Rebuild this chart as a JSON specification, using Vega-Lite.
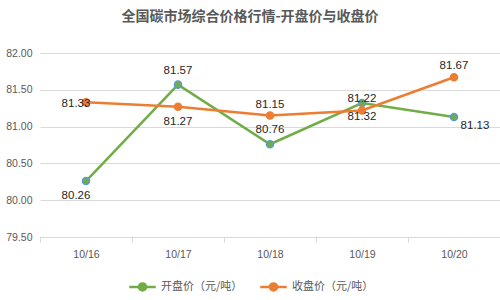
{
  "$schema": "https://vega.github.io/schema/vega-lite/v6.json",
  "width": 460,
  "height": 184,
  "autosize": "none",
  "padding": {"left": 40, "top": 53, "right": 0, "bottom": 63},
  "background": "white",
  "title": {"text": "全国碳市场综合价格行情-开盘价与收盘价", "font": "Noto Sans CJK SC", "fontSize": 14, "fontWeight": "bold", "color": "#595959", "offset": 24, "dx": -20},
  "config": {"view": {"stroke": null}, "font": "Liberation Sans"},
  "data": {"values": [
    {"date": "10/16", "series": "开盘价（元/吨）", "price": 80.26},
    {"date": "10/17", "series": "开盘价（元/吨）", "price": 81.57},
    {"date": "10/18", "series": "开盘价（元/吨）", "price": 80.76},
    {"date": "10/19", "series": "开盘价（元/吨）", "price": 81.32},
    {"date": "10/20", "series": "开盘价（元/吨）", "price": 81.13},
    {"date": "10/16", "series": "收盘价（元/吨）", "price": 81.33},
    {"date": "10/17", "series": "收盘价（元/吨）", "price": 81.27},
    {"date": "10/18", "series": "收盘价（元/吨）", "price": 81.15},
    {"date": "10/19", "series": "收盘价（元/吨）", "price": 81.22},
    {"date": "10/20", "series": "收盘价（元/吨）", "price": 81.67}
  ]},
  "encoding": {
    "x": {"field": "date", "type": "ordinal", "title": null,
      "scale": {"type": "band", "paddingInner": 0, "paddingOuter": 0},
      "axis": {"labelAngle": 0, "labelFontSize": 10.5, "labelColor": "#595959", "labelPadding": 7, "domainColor": "#d9d9d9", "tickColor": "#d9d9d9", "tickSize": 5, "tickBand": "extent", "grid": false}},
    "y": {"field": "price", "type": "quantitative", "title": null,
      "scale": {"domain": [79.5, 82], "zero": false, "nice": false},
      "axis": {"values": [79.5, 80, 80.5, 81, 81.5, 82], "format": ".2f", "labelFontSize": 10.5, "labelColor": "#595959", "labelPadding": 8, "domain": false, "ticks": false, "gridColor": "#d9d9d9"}}
  },
  "layer": [
    {"mark": {"type": "line", "strokeWidth": 2.5},
     "encoding": {"color": {"field": "series", "type": "nominal", "title": null,
       "scale": {"domain": ["开盘价（元/吨）", "收盘价（元/吨）"], "range": ["#70AD47", "#ED7D31"]},
       "legend": {"orient": "none", "legendX": 88, "legendY": 219, "direction": "horizontal", "labelFont": "Noto Sans CJK SC", "labelFontSize": 11, "labelColor": "#595959", "columnPadding": 12, "symbolType": "M-1,0L1,0M-0.27,0A0.27,0.27 0 1,1 0.27,0A0.27,0.27 0 1,1 -0.27,0", "symbolSize": 700, "symbolStrokeWidth": 2.5,
         "encode": {"symbols": {"update": {"fill": {"scale": "color", "field": "value"}}}}}}}},
    {"mark": {"type": "point", "filled": true, "size": 50, "strokeWidth": 1.5, "opacity": 1},
     "encoding": {
       "fill": {"field": "series", "type": "nominal", "scale": {"domain": ["开盘价（元/吨）", "收盘价（元/吨）"], "range": ["#70AD47", "#ED7D31"]}, "legend": null},
       "stroke": {"field": "series", "type": "nominal", "scale": {"domain": ["开盘价（元/吨）", "收盘价（元/吨）"], "range": ["#5B9BD5", "#ED7D31"]}, "legend": null}}},
    {"transform": [{"filter": "datum.series == '开盘价（元/吨）' && (datum.date == '10/17' || datum.date == '10/18')"}],
     "mark": {"type": "text", "fontSize": 11.5, "color": "#262626", "baseline": "middle", "dy": -14},
     "encoding": {"text": {"field": "price", "format": ".2f"}}},
    {"transform": [{"filter": "datum.series == '开盘价（元/吨）' && datum.date == '10/19'"}],
     "mark": {"type": "text", "fontSize": 11.5, "color": "#262626", "baseline": "middle", "dy": 14},
     "encoding": {"text": {"field": "price", "format": ".2f"}}},
    {"transform": [{"filter": "datum.series == '开盘价（元/吨）' && datum.date == '10/16'"}],
     "mark": {"type": "text", "fontSize": 11.5, "color": "#262626", "baseline": "middle", "dx": -10, "dy": 15},
     "encoding": {"text": {"field": "price", "format": ".2f"}}},
    {"transform": [{"filter": "datum.series == '开盘价（元/吨）' && datum.date == '10/20'"}],
     "mark": {"type": "text", "fontSize": 11.5, "color": "#262626", "baseline": "middle", "dx": 21, "dy": 9},
     "encoding": {"text": {"field": "price", "format": ".2f"}}},
    {"transform": [{"filter": "datum.series == '收盘价（元/吨）' && (datum.date == '10/18' || datum.date == '10/19' || datum.date == '10/20')"}],
     "mark": {"type": "text", "fontSize": 11.5, "color": "#262626", "baseline": "middle", "dy": -11},
     "encoding": {"text": {"field": "price", "format": ".2f"}}},
    {"transform": [{"filter": "datum.series == '收盘价（元/吨）' && datum.date == '10/17'"}],
     "mark": {"type": "text", "fontSize": 11.5, "color": "#262626", "baseline": "middle", "dy": 15},
     "encoding": {"text": {"field": "price", "format": ".2f"}}},
    {"transform": [{"filter": "datum.series == '收盘价（元/吨）' && datum.date == '10/16'"}],
     "mark": {"type": "text", "fontSize": 11.5, "color": "#262626", "baseline": "middle", "dx": -10, "dy": 2},
     "encoding": {"text": {"field": "price", "format": ".2f"}}}
  ]
}
